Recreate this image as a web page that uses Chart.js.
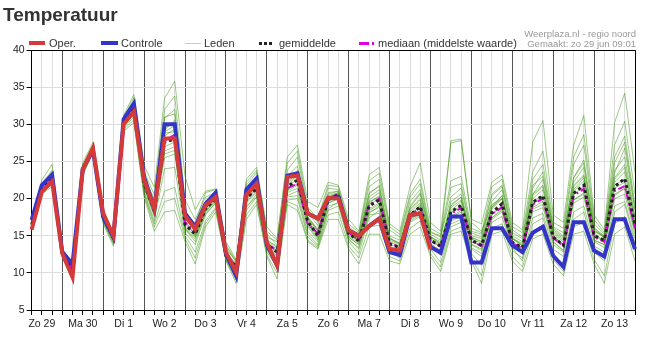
<!DOCTYPE html>
<html>
<head>
<meta charset="utf-8">
<script src="https://cdn.jsdelivr.net/npm/chart.js@4.4.1/dist/chart.umd.min.js"></script>
<style>
  body { margin: 0; background: #fff; font-family: "Liberation Sans", Arial, sans-serif; }
  #wrap { position: relative; width: 649px; height: 343px; }
  #title { position: absolute; left: 3px; top: 4px; font-size: 19px; font-weight: bold; color: #333; line-height: 22px; }
  .src { position: absolute; right: 13px; font-size: 9.5px; color: #999; line-height: 11px; white-space: nowrap; }
  .lg { position: absolute; top: 37px; font-size: 11px; color: #333; line-height: 12px; white-space: nowrap; }
  .sym { position: absolute; }
</style>
</head>
<body>
<div id="wrap">
  <canvas id="chart" width="649" height="343"></canvas>
  <div id="title">Temperatuur</div>
  <div class="src" style="top:28px">Weerplaza.nl - regio noord</div>
  <div class="src" style="top:38px">Gemaakt: zo 29 jun 09:01</div>

  <div class="sym" style="left:29px;top:41px;width:16px;height:4px;background:#d43a3a"></div>
  <div class="lg" style="left:49px">Oper.</div>
  <div class="sym" style="left:101px;top:41px;width:17px;height:4px;background:#3434c8"></div>
  <div class="lg" style="left:121px">Controle</div>
  <div class="sym" style="left:185px;top:43px;width:16px;height:1px;background:#b4daa6"></div>
  <div class="lg" style="left:204px">Leden</div>
  <div class="sym" style="left:259px;top:42px;width:13px;height:0;border-top:3px dotted #222"></div>
  <div class="lg" style="left:279px">gemiddelde</div>
  <div class="sym" style="left:359px;top:42px;width:10px;height:3px;background:#e000e0"></div>
  <div class="sym" style="left:372px;top:42px;width:2px;height:3px;background:#e000e0"></div>
  <div class="lg" style="left:378px">mediaan (middelste waarde)</div>
</div>
<script>
// one point every 6 hours, first point zo 29 06:00, last ma 14 00:00
const dayLabels = ["Zo 29", "Ma 30", "Di 1", "Wo 2", "Do 3", "Vr 4", "Za 5", "Zo 6",
  "Ma 7", "Di 8", "Wo 9", "Do 10", "Vr 11", "Za 12", "Zo 13"];

const oper = [15.8,20.9,22.3,12.6,9.4,23.9,26.8,18.0,15.0,30.0,31.7,22.5,18.6,28.1,28.1,17.7,15.9,19.1,20.2,12.8,
  10.1,20.5,22.0,14.1,11.0,22.9,23.1,18.0,17.3,20.1,20.0,15.7,15.0,16.3,17.3,13.2,13.0,17.8,18.0,13.2];

const controle = [17.1,21.8,23.2,12.8,11.2,24.0,26.5,17.5,14.8,30.7,32.8,22.9,18.6,30.0,30.0,18.0,16.2,19.3,20.8,12.6,
  9.6,21.2,22.7,13.8,11.0,23.1,23.4,18.0,17.3,20.0,20.2,15.7,15.0,16.3,17.3,12.8,12.4,17.8,18.0,13.5,
  12.7,17.6,17.6,11.4,11.4,16.0,16.0,13.7,12.8,15.4,16.2,12.3,10.8,16.8,16.8,13.0,12.2,17.2,17.2,13.2];

const gemiddelde = [16.5,21.2,22.7,12.8,10.3,24.0,26.6,17.5,14.7,30.3,32.3,22.0,18.3,27.6,28.0,16.5,15.2,18.6,20.0,12.3,
  10.8,20.0,21.4,13.8,12.8,21.6,22.5,16.9,15.0,19.9,20.5,15.3,14.3,19.0,19.8,13.9,13.4,17.8,18.9,14.4,
  13.6,18.2,19.1,14.4,13.7,18.1,19.3,14.1,13.4,19.5,20.4,14.8,13.7,20.7,21.8,15.0,14.4,21.6,22.7,16.4];

const mediaan = [16.5,21.1,22.6,12.8,10.4,24.0,26.7,17.6,14.8,30.4,32.4,22.2,18.6,27.8,28.6,16.8,15.6,18.8,20.1,12.4,
  10.9,20.1,21.2,13.9,13.0,21.4,22.0,16.6,15.3,20.0,20.6,15.4,14.4,19.2,20.0,14.0,13.5,17.8,18.7,14.3,
  13.5,18.0,18.7,14.3,13.6,17.9,18.8,14.0,13.3,19.2,20.0,14.7,13.6,20.4,21.3,14.8,14.2,21.0,21.7,16.0];

const leden = [
  [17.2,22.5,24.6,13.3,11.2,24.8,27.6,18.6,15.3,31.2,34.0,24.5,21.5,33.5,35.8,23.0,18.5,21.0,21.3,14.2,11.8,22.6,24.2,16.2,14.6,25.6,27.2,19.6,18.8,22.2,21.8,17.2,15.6,23.2,24.2,16.6,15.6,21.6,24.8,16.8,15.6,27.5,27.8,17.2,16.6,22.2,23.2,16.8,15.8,27.6,30.5,17.8,16.8,27.2,31.2,17.8,15.8,30.2,34.2,23.5],
  [15.6,20.6,21.6,12.1,9.1,23.1,26.1,16.6,13.6,29.1,30.2,20.2,15.6,18.2,18.4,14.2,11.2,16.2,18.2,11.6,8.6,17.2,19.2,12.2,9.2,19.2,18.4,14.2,13.2,17.2,17.2,13.2,11.2,15.2,15.2,11.6,11.2,15.2,16.2,12.2,10.2,15.2,15.6,11.6,8.6,15.2,15.6,11.6,10.2,14.6,15.2,11.2,9.6,15.2,15.6,11.2,8.6,15.2,16.2,11.6],
  [16.8,21.6,23.2,13.0,10.6,24.2,26.9,17.9,14.9,30.6,32.8,22.6,19.0,29.5,30.2,17.2,15.8,19.0,20.4,12.6,11.2,20.6,22.0,14.4,13.4,22.4,23.6,17.6,15.8,20.4,20.8,15.8,14.8,19.8,20.8,14.4,13.8,18.4,19.8,14.8,14.0,19.0,20.2,14.8,14.2,18.8,20.4,14.6,13.8,20.4,21.6,15.2,14.2,21.6,23.0,15.6,14.8,22.6,24.2,17.0],
  [16.3,20.9,22.3,12.6,10.0,23.8,26.4,17.2,14.4,30.0,31.8,21.4,17.6,26.0,26.5,15.8,14.6,18.2,19.6,12.0,10.4,19.4,20.8,13.4,12.2,20.8,21.4,16.2,14.4,19.4,20.0,14.8,13.8,18.2,18.8,13.4,12.8,17.2,18.0,13.9,13.0,17.4,18.2,13.9,13.2,17.4,18.4,13.6,12.8,18.6,19.2,14.2,13.0,19.8,20.6,14.4,13.8,20.4,21.4,15.8],
  [16.9,22.0,23.8,13.2,10.8,24.4,27.2,18.2,15.1,30.9,33.6,23.6,20.5,32.0,33.8,19.8,17.2,20.2,20.8,13.6,11.4,21.8,23.5,15.2,13.8,23.8,25.6,18.4,16.8,21.4,21.2,16.2,15.2,21.6,22.6,15.8,14.8,20.2,22.0,15.6,14.8,21.5,22.0,15.6,15.2,20.6,21.8,15.8,14.8,22.6,24.6,16.2,15.4,24.6,27.2,16.6,15.2,25.6,28.4,19.2],
  [16.0,20.8,22.0,12.4,9.6,23.4,26.2,16.9,14.0,29.5,31.0,20.8,16.6,21.0,21.5,15.0,12.8,17.0,18.8,11.9,9.4,18.4,20.2,12.8,10.8,20.2,20.4,15.2,13.8,18.6,19.6,14.2,12.6,17.4,18.4,13.0,12.4,17.6,19.2,14.2,13.6,19.6,20.6,15.0,14.6,19.6,21.2,15.0,14.2,21.4,23.6,16.0,15.0,22.8,25.2,16.2,14.6,24.8,27.6,18.6],
  [16.6,21.4,23.0,12.9,10.4,24.1,26.8,17.6,14.8,30.4,32.6,22.2,18.8,28.4,29.4,16.8,15.4,18.8,20.2,12.4,10.9,20.2,21.6,14.0,13.0,21.8,23.0,17.0,15.2,20.0,20.6,15.4,14.4,19.4,20.4,14.2,13.6,18.8,20.6,15.2,14.4,27.8,28.0,16.8,15.6,19.2,20.0,14.8,13.6,19.6,20.4,15.0,13.8,21.0,22.4,15.2,14.0,21.8,22.6,16.4],
  [16.4,21.0,22.6,12.7,10.2,23.9,26.5,17.4,14.6,30.2,32.2,21.8,18.2,27.0,27.6,16.2,15.0,18.4,19.8,12.2,10.6,19.8,21.2,13.6,12.6,21.2,22.0,16.6,14.8,19.6,20.2,15.0,14.0,18.6,19.4,13.6,13.0,17.4,18.4,13.6,12.4,16.6,17.2,13.2,12.2,16.8,17.6,13.0,12.0,17.4,18.0,13.2,12.2,18.2,19.0,13.6,12.8,19.0,19.6,14.6],
  [17.0,21.8,23.6,13.1,10.7,24.3,27.0,18.0,15.0,30.8,33.2,23.2,19.6,30.8,32.0,18.4,16.4,19.6,20.6,13.2,11.6,21.2,22.8,14.8,14.2,23.0,24.4,18.0,16.4,20.8,21.0,16.0,15.0,20.6,21.8,15.0,14.4,19.6,21.2,15.4,15.0,20.2,21.4,15.4,14.8,20.4,21.6,15.4,14.6,21.8,23.0,15.8,14.8,22.8,24.8,16.0,15.0,23.8,25.6,17.6],
  [16.2,21.2,22.4,12.5,9.8,23.6,26.3,17.0,14.2,29.8,31.4,21.0,17.0,24.0,24.2,15.4,13.8,17.8,19.4,11.8,9.8,18.8,20.6,13.2,11.6,20.4,21.0,15.6,14.2,19.0,19.4,14.6,13.2,17.8,18.0,12.8,12.0,16.8,17.6,13.2,11.4,16.2,16.8,12.6,11.0,17.2,18.2,13.4,11.6,16.6,17.4,12.4,11.2,17.2,18.2,12.8,11.6,18.2,19.2,14.0],
  [16.7,21.5,23.0,12.9,10.5,24.0,26.7,17.8,14.9,30.5,32.5,22.4,18.6,28.8,29.0,17.4,15.6,18.9,20.0,12.5,11.0,20.4,21.8,14.2,13.2,22.0,23.2,17.2,15.6,20.2,20.6,15.6,14.6,19.6,20.2,14.6,14.0,18.2,19.4,14.6,13.8,18.8,19.8,14.6,14.0,18.6,20.0,14.6,13.6,20.6,22.6,15.6,14.6,22.2,24.2,15.8,14.8,23.4,26.8,18.4],
  [16.5,21.1,22.8,12.7,10.1,23.7,26.6,17.3,14.5,30.1,32.0,21.6,17.8,25.5,26.0,16.0,14.2,18.0,19.4,12.1,10.2,19.0,20.2,13.0,11.8,19.8,20.0,14.8,13.6,18.4,19.0,14.4,13.4,18.0,19.0,13.4,12.6,17.0,17.8,13.6,12.8,17.0,17.6,13.4,12.6,17.8,19.0,14.0,13.0,18.2,18.8,13.8,12.8,19.4,20.2,14.2,13.4,20.0,20.6,15.2],
  [16.9,21.9,23.4,13.1,10.9,24.5,27.1,18.3,15.2,30.9,33.0,22.8,20.0,31.0,31.4,18.0,16.6,20.8,21.2,13.8,11.6,22.2,23.8,15.6,14.4,24.8,26.4,18.8,17.4,21.8,21.6,16.6,15.4,22.4,23.4,16.2,15.2,20.6,22.6,16.0,15.2,22.4,23.0,16.0,15.4,21.6,22.6,16.2,15.4,23.6,26.4,16.8,16.0,25.6,28.6,17.2,15.4,27.2,30.4,20.6],
  [16.1,20.7,22.1,12.3,9.4,23.3,26.2,16.8,13.9,29.3,30.6,20.5,16.2,19.6,20.0,14.6,12.0,16.6,18.6,11.7,9.0,17.8,19.6,12.4,10.0,19.6,19.0,14.4,13.4,17.8,18.2,13.6,12.0,16.2,16.4,12.2,11.6,16.0,17.0,12.6,10.8,15.6,16.2,12.0,9.6,16.0,16.6,12.2,10.8,15.6,16.2,11.8,10.2,16.2,16.8,11.8,9.6,16.6,17.6,12.8],
  [16.6,21.3,22.9,12.8,10.3,24.0,26.6,17.6,14.7,30.3,32.4,22.0,18.4,27.8,28.4,16.6,15.2,18.6,20.0,12.3,10.8,20.0,21.4,13.8,12.8,21.6,22.6,16.8,15.0,19.8,20.4,15.2,14.2,19.2,20.0,13.8,13.4,17.8,19.0,14.4,13.6,18.2,19.0,14.2,13.6,18.0,19.0,14.0,13.4,19.4,20.2,14.8,13.6,20.6,21.6,15.0,14.4,21.4,22.2,16.2],
  [16.7,21.6,23.1,13.0,10.6,24.2,26.9,17.8,15.0,30.6,32.9,22.8,19.2,29.0,29.8,17.6,15.8,19.2,20.4,12.8,11.2,20.8,22.2,14.4,13.6,22.6,23.8,17.4,15.8,20.6,21.0,15.8,14.8,20.2,21.2,14.6,14.0,18.6,20.0,14.8,14.2,19.2,20.2,14.8,14.2,19.0,20.4,14.6,14.0,20.6,21.8,15.4,14.4,21.8,23.2,15.6,15.0,22.8,24.6,17.4],
  [16.4,21.0,22.5,12.6,10.1,23.8,26.5,17.3,14.5,30.1,31.9,21.6,17.8,26.4,27.0,16.0,14.8,18.2,19.7,12.1,10.5,19.6,21.0,13.4,12.4,21.0,21.8,16.4,14.6,19.4,20.0,14.8,13.8,18.4,19.2,13.4,12.8,17.2,18.2,13.8,13.0,17.6,18.4,13.8,13.0,17.4,18.6,13.6,12.8,18.8,19.6,14.2,13.0,19.8,20.8,14.4,13.8,20.6,21.4,15.6],
  [16.8,21.7,23.3,12.9,10.4,24.3,26.8,17.7,14.8,30.5,32.7,22.5,18.4,29.2,30.6,17.0,15.0,18.6,20.2,12.3,10.6,20.6,22.4,14.0,12.8,22.2,23.4,17.4,15.6,20.2,20.8,15.4,14.6,20.8,21.6,14.8,13.8,19.0,20.8,15.0,13.8,18.4,19.6,14.6,13.4,18.8,20.0,14.2,13.2,20.0,21.2,15.0,13.8,21.2,22.8,15.4,14.2,22.2,23.6,16.8]
];

// x labels: day name at 12:00, empty elsewhere
const labels = [];
for (let i = 0; i < 60; i++) {
  labels.push((i - 1) % 4 === 0 ? dayLabels[(i - 1) / 4] : "");
}

const datasets = [
  { label: "Oper.", data: oper, borderColor: "#d43a3a", borderWidth: 4 },
  { label: "Controle", data: controle, borderColor: "#3434c8", borderWidth: 4 },
  { label: "gemiddelde", data: gemiddelde, borderColor: "#222", borderWidth: 3, borderDash: [3, 3] },
  { label: "mediaan", data: mediaan, borderColor: "#e000e0", borderWidth: 2, borderDash: [7, 3, 2, 3] },
];
leden.forEach((lid, n) => {
  datasets.push({ label: "Leden " + n, data: lid, borderColor: "rgba(60,150,15,0.5)", borderWidth: 1 });
});

const boxPlugin = {
  id: "box",
  beforeDatasetsDraw(chart) {
    const a = chart.chartArea, c = chart.ctx;
    c.save();
    c.strokeStyle = "#000";
    c.lineWidth = 1;
    c.beginPath();
    c.moveTo(a.left, a.top + 0.5);
    c.lineTo(a.right + 0.5, a.top + 0.5);
    c.lineTo(a.right + 0.5, a.bottom);
    c.stroke();
    c.restore();
  },
};

new Chart(document.getElementById("chart"), {
  type: "line",
  data: { labels: labels, datasets: datasets },
  plugins: [boxPlugin],
  options: {
    responsive: false,
    animation: false,
    layout: { padding: { top: 50, right: 14, left: 0, bottom: 0 } },
    elements: { point: { radius: 0 }, line: { tension: 0, borderCapStyle: "butt" } },
    plugins: { legend: { display: false }, tooltip: { enabled: false } },
    scales: {
      x: {
        offset: false,
        afterFit: (s) => { s.height = 33; },
        grid: {
          color: (ctx) => (ctx.index % 4 === 3 ? "#555" : "#ddd"),
          tickColor: "#000",
          tickLength: 5,
        },
        border: { color: "#000" },
        ticks: { autoSkip: false, maxRotation: 0, color: "#222", font: { family: "Liberation Sans", size: 10.5 }, padding: 3 },
      },
      y: {
        min: 5,
        max: 40,
        afterFit: (s) => { s.width = 31.6; },
        grid: { color: "#ddd", tickColor: "#000", tickLength: 5 },
        border: { color: "#000" },
        ticks: { stepSize: 5, color: "#222", font: { family: "Liberation Sans", size: 10.5 }, padding: 2 },
      },
    },
  },
});
</script>
</body>
</html>
